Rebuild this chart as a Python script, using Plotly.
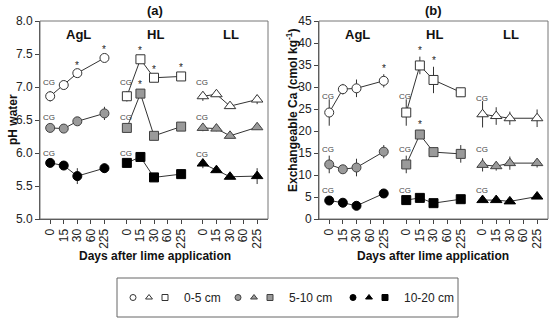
import plotly.graph_objects as go

# ---------------- data ----------------
day_labels = ["0", "15", "30", "60", "225"]
data_days = ["0", "15", "30", "225"]
sites = ["AgL", "HL", "LL"]
depths = ["0-5 cm", "5-10 cm", "10-20 cm"]

# pH water (a)
ph_agl_0_5 = [6.86, 7.03, 7.21, 7.44]
ph_agl_5_10 = [6.38, 6.37, 6.48, 6.60]
ph_agl_10_20 = [5.85, 5.81, 5.65, 5.77]
ph_hl_0_5 = [6.86, 7.42, 7.14, 7.16]
ph_hl_5_10 = [6.38, 6.90, 6.26, 6.40]
ph_hl_10_20 = [5.85, 5.94, 5.63, 5.68]
ph_ll_0_5 = [6.86, 6.89, 6.71, 6.81]
ph_ll_5_10 = [6.38, 6.37, 6.26, 6.39]
ph_ll_10_20 = [5.84, 5.74, 5.64, 5.65]

ph_err_agl_0_5 = [0.08, 0.03, 0.03, 0.03]
ph_err_agl_5_10 = [0.05, 0.03, 0.03, 0.10]
ph_err_agl_10_20 = [0.04, 0.03, 0.12, 0.07]
ph_err_hl_0_5 = [0.08, 0.04, 0.04, 0.04]
ph_err_hl_5_10 = [0.06, 0.04, 0.03, 0.03]
ph_err_hl_10_20 = [0.03, 0.03, 0.04, 0.07]
ph_err_ll_0_5 = [0.07, 0.03, 0.03, 0.07]
ph_err_ll_5_10 = [0.05, 0.04, 0.03, 0.03]
ph_err_ll_10_20 = [0.07, 0.04, 0.03, 0.12]

# Exchangeable Ca (b)
ca_agl_0_5 = [24.2, 29.5, 29.7, 31.4]
ca_agl_5_10 = [12.4, 11.3, 11.7, 15.3]
ca_agl_10_20 = [4.2, 3.7, 3.0, 5.8]
ca_hl_0_5 = [24.2, 34.9, 31.6, 28.8]
ca_hl_5_10 = [12.4, 19.2, 15.2, 14.8]
ca_hl_10_20 = [4.3, 4.8, 3.6, 4.5]
ca_ll_0_5 = [23.8, 23.4, 22.9, 22.9]
ca_ll_5_10 = [12.3, 12.0, 12.7, 12.7]
ca_ll_10_20 = [4.3, 4.3, 4.0, 5.1]

ca_err_agl_0_5 = [3.0, 1.2, 2.0, 1.5]
ca_err_agl_5_10 = [2.0, 0.8, 2.0, 1.5]
ca_err_agl_10_20 = [0.5, 0.5, 0.4, 0.5]
ca_err_hl_0_5 = [3.0, 2.0, 3.0, 1.0]
ca_err_hl_5_10 = [2.0, 1.0, 1.0, 2.0]
ca_err_hl_10_20 = [0.5, 0.5, 0.5, 0.5]
ca_err_ll_0_5 = [3.0, 2.0, 1.5, 2.0]
ca_err_ll_5_10 = [1.5, 1.0, 1.5, 1.0]
ca_err_ll_10_20 = [0.5, 0.5, 0.5, 0.5]

# significance asterisks: (site, depth, day)
ph_signif = [("AgL", "0-5 cm", "30"), ("AgL", "0-5 cm", "225"),
             ("HL", "0-5 cm", "15"), ("HL", "0-5 cm", "30"), ("HL", "0-5 cm", "225"),
             ("HL", "5-10 cm", "15")]
ca_signif = [("AgL", "0-5 cm", "225"), ("HL", "0-5 cm", "15"), ("HL", "0-5 cm", "30"),
             ("HL", "5-10 cm", "15")]

ph_vals = {"AgL": [ph_agl_0_5, ph_agl_5_10, ph_agl_10_20],
           "HL": [ph_hl_0_5, ph_hl_5_10, ph_hl_10_20],
           "LL": [ph_ll_0_5, ph_ll_5_10, ph_ll_10_20]}
ph_errs = {"AgL": [ph_err_agl_0_5, ph_err_agl_5_10, ph_err_agl_10_20],
           "HL": [ph_err_hl_0_5, ph_err_hl_5_10, ph_err_hl_10_20],
           "LL": [ph_err_ll_0_5, ph_err_ll_5_10, ph_err_ll_10_20]}
ca_vals = {"AgL": [ca_agl_0_5, ca_agl_5_10, ca_agl_10_20],
           "HL": [ca_hl_0_5, ca_hl_5_10, ca_hl_10_20],
           "LL": [ca_ll_0_5, ca_ll_5_10, ca_ll_10_20]}
ca_errs = {"AgL": [ca_err_agl_0_5, ca_err_agl_5_10, ca_err_agl_10_20],
           "HL": [ca_err_hl_0_5, ca_err_hl_5_10, ca_err_hl_10_20],
           "LL": [ca_err_ll_0_5, ca_err_ll_5_10, ca_err_ll_10_20]}

# ---------------- styles ----------------
W, H = 550, 321
FONT = "Liberation Sans, Arial, sans-serif"
site_offset = {"AgL": 0.0, "HL": 5.65, "LL": 11.25}
site_symbol = {"AgL": "circle", "HL": "square", "LL": "triangle-up"}
site_size = {"AgL": 9, "HL": 9, "LL": 10}
depth_fill = ["white", "#9a9a9a", "black"]
depth_edge = ["#333333", "#404040", "black"]
cg_shift = {"ph": [14, 10, 9], "ca": [16, 15, 10]}

def xpos(site, day):
    return site_offset[site] + day_labels.index(day)

fig = go.Figure()
annotations = []

panels = [("ph", ph_vals, ph_errs, ph_signif, "x", "y"),
          ("ca", ca_vals, ca_errs, ca_signif, "x2", "y2")]

for key, vals, errs, signif, xa, ya in panels:
    for site in sites:
        xs = [xpos(site, d) for d in data_days]
        for di, dep in enumerate(depths):
            v = vals[site][di]
            e = errs[site][di]
            fig.add_trace(go.Scatter(
                x=xs, y=v, xaxis=xa, yaxis=ya, mode="lines+markers",
                line=dict(color="#333333", width=1),
                marker=dict(symbol=site_symbol[site], size=site_size[site],
                            color=depth_fill[di],
                            line=dict(color=depth_edge[di], width=1)),
                error_y=dict(type="data", array=e, visible=True, width=0,
                             thickness=1, color="#333333"),
                showlegend=False, hoverinfo="skip"))
            annotations.append(dict(
                x=xs[0], y=v[0], xref=xa, yref=ya, text="CG", showarrow=False,
                xanchor="center", yanchor="middle",
                font=dict(family=FONT, size=8, color="#444444"),
                xshift=-1, yshift=cg_shift[key][di]))
        annotations.append(dict(
            x=site_offset[site] + 2.1, y=(7.8 if key == "ph" else 42.0),
            xref=xa, yref=ya, text="<b>%s</b>" % site, showarrow=False,
            xanchor="center", yanchor="middle",
            font=dict(family=FONT, size=13, color="#111111")))
    for site, dep, day in signif:
        di = depths.index(dep)
        k = data_days.index(day)
        yv = vals[site][di][k] + errs[site][di][k]
        annotations.append(dict(
            x=xpos(site, day), y=yv, xref=xa, yref=ya, text="*", showarrow=False,
            xanchor="center", yanchor="middle",
            font=dict(family=FONT, size=10, color="#222222"), yshift=6))

# ---------------- axes ----------------
tickvals = [site_offset[s] + i for s in sites for i in range(len(day_labels))]
ticktext = [d for s in sites for d in day_labels]

common_x = dict(range=[-0.75, 16.05], tickmode="array", tickvals=tickvals,
                ticktext=ticktext, tickangle=-90, ticks="outside", ticklen=4,
                tickcolor="#444444", showline=True, linecolor="#444444",
                linewidth=1, showgrid=False, zeroline=False, automargin=False,
                tickfont=dict(family=FONT, size=12, color="#222222"))
common_y = dict(ticks="outside", ticklen=4, tickcolor="#444444", showline=True,
                linecolor="#444444", linewidth=1, showgrid=False, zeroline=False,
                automargin=False,
                tickfont=dict(family=FONT, size=12, color="#222222"))

ydom = [1 - 219 / H, 1 - 21 / H]
fig.update_layout(
    width=W, height=H, margin=dict(l=0, r=0, t=0, b=0, autoexpand=False),
    paper_bgcolor="white", plot_bgcolor="white",
    font=dict(family=FONT, size=12, color="#222222"),
    xaxis=dict(domain=[40 / W, 268 / W], anchor="y", **common_x),
    yaxis=dict(domain=ydom, anchor="x", range=[5.0, 8.0], tickvals=[5, 5.5, 6, 6.5, 7, 7.5, 8],
               ticktext=["5.0", "5.5", "6.0", "6.5", "7.0", "7.5", "8.0"], **common_y),
    xaxis2=dict(domain=[319 / W, 548 / W], anchor="y2", **common_x),
    yaxis2=dict(domain=ydom, anchor="x2", range=[0, 45], tickvals=list(range(0, 50, 5)),
                **common_y),
    xaxis3=dict(domain=[117 / W, 458 / W], range=[117, 458], visible=False, anchor="y3",
                automargin=False),
    yaxis3=dict(domain=[4 / H, 43 / H], range=[0, 1], visible=False, anchor="x3",
                automargin=False),
)

# frames
shapes = []
for xa, ya in [("x", "y"), ("x2", "y2")]:
    shapes.append(dict(type="rect", xref=xa + " domain", yref=ya + " domain",
                       x0=0, x1=1, y0=0, y1=1, line=dict(color="#777777", width=1)))
shapes.append(dict(type="rect", xref="x3 domain", yref="y3 domain", x0=0, x1=1, y0=0, y1=1,
                   line=dict(color="#666666", width=1)))
fig.update_layout(shapes=shapes)

# titles & axis titles
def ptext(x, y, text, size, angle=0):
    return dict(x=x / W, y=1 - y / H, xref="paper", yref="paper", text=text,
                showarrow=False, xanchor="center", yanchor="middle", textangle=angle,
                font=dict(family=FONT, size=size, color="#111111"))

annotations += [
    ptext(155, 10, "<b>(a)</b>", 13),
    ptext(433, 10, "<b>(b)</b>", 13),
    ptext(13, 120, "<b>pH water</b>", 12, -90),
    ptext(292, 110, "<b>Exchangeable Ca (cmol kg<sup>-1</sup>)</b>", 12, -90),
    ptext(155, 256, "<b>Days after lime application</b>", 12),
    ptext(433, 256, "<b>Days after lime application</b>", 12),
]

# custom legend (inside x3/y3 box)
leg_group_x = [133, 238, 353]
leg_step = 16
for di, dep in enumerate(depths):
    gx = leg_group_x[di]
    for si, site in enumerate(["AgL", "LL", "HL"]):
        fig.add_trace(go.Scatter(
            x=[gx + si * leg_step], y=[0.5], xaxis="x3", yaxis="y3", mode="markers",
            marker=dict(symbol=site_symbol[site], size=6,
                        color=depth_fill[di], line=dict(color=depth_edge[di], width=1)),
            showlegend=False, hoverinfo="skip"))
    annotations.append(dict(x=gx + 3 * leg_step + 1, y=0.5, xref="x3", yref="y3",
                            text=dep, showarrow=False, xanchor="left", yanchor="middle",
                            font=dict(family=FONT, size=12, color="#222222")))

fig.update_layout(annotations=annotations)
fig.write_html("out.html", config={"displayModeBar": False},
               post_script="document.body.style.margin='0';document.body.style.overflow='hidden';")
